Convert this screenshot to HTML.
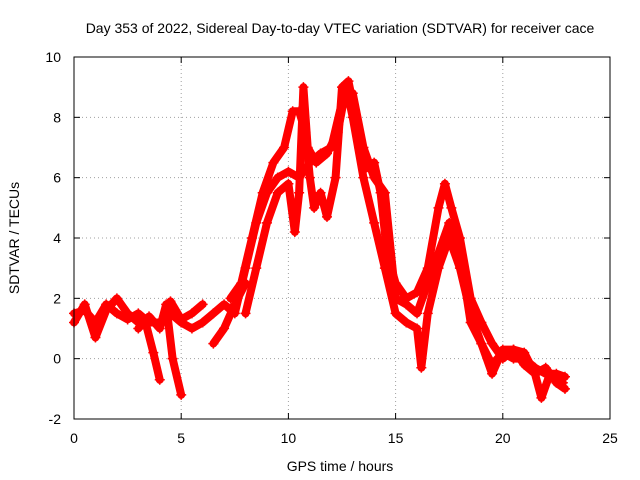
<!DOCTYPE html>
<html><head><meta charset="utf-8"><style>
body{margin:0;background:#fff}
svg{display:block;font-family:"Liberation Sans",sans-serif}
</style></head><body>
<svg id="chart" width="640" height="480" viewBox="0 0 640 480">
<rect width="640" height="480" fill="#fff"/>
<text x="340" y="33" font-size="14" text-anchor="middle">Day 353 of 2022, Sidereal Day-to-day VTEC variation (SDTVAR) for receiver cace</text>
<g id="grid"></g><g id="axes"></g><g id="series"></g>
<rect x="74" y="57" width="536" height="362" fill="none" stroke="#000" stroke-width="1"/>
<text x="340" y="471" font-size="14" text-anchor="middle">GPS time / hours</text>
<text transform="translate(19,238) rotate(-90)" font-size="14" text-anchor="middle">SDTVAR / TECUs</text>
</svg>
<script>
const xTicks=[0,5,10,15,20,25];
const yTicks=[-2,0,2,4,6,8,10];
const traceA=[[0,1.5],[0.5,1.6],[1,1.2],[1.5,1.8],[2,1.5],[2.5,1.3],[3,1.5],[3.5,1.2],[4,1.2],[4.5,1.5],[5,1.2],[5.5,1.0],[6,1.2],[6.5,1.5],[7,1.8],[7.5,1.5],[8,3],[8.5,4.5],[9,5.5],[9.5,6],[10,6.2],[10.5,6],[11,6.5],[11.5,6.8],[12,7],[12.5,8.5],[13,8.8],[13.5,7],[14,6],[14.5,5.5],[15,2],[15.5,1.8],[16,1.5],[16.5,2.5],[17,3.5],[17.5,4.5],[18,3.5],[18.5,1.2],[19,0.5],[19.5,-0.2],[20,0.2],[20.5,0],[21,0],[21.5,-0.3],[22,-0.5],[22.5,-0.5],[22.9,-0.6]];
const traceB=[[7.3,2],[7.8,2.5],[8.3,4],[8.8,5.5],[9.3,6.5],[9.8,7],[10.2,8.2],[10.5,8.2],[10.8,7.5],[11,6],[11.2,5],[11.5,5.5],[11.8,4.7],[12.2,6],[12.5,9],[12.8,9.2],[13,8.5],[13.3,7],[13.6,6.3],[14,6.5],[14.3,5.5],[14.6,3.5],[15,2.5],[15.5,2],[16,2.2],[16.5,3],[17,5],[17.3,5.8],[17.6,5],[18,4],[18.5,2],[19,1.2],[19.5,0.5],[20,0],[20.5,0.3],[21,0.2],[21.5,-0.5],[22,-0.3],[22.5,-0.8],[22.9,-1]];
const traceC=[[8,1.5],[8.5,3],[9,4.5],[9.5,5.5],[10,5.8],[10.3,4.2],[10.5,5.5],[10.7,9],[10.9,7],[11.3,6.5],[11.8,6.8],[12.3,7.5],[12.7,9],[13,8],[13.5,6],[14,4.5],[14.5,3],[15,1.5],[15.5,1.2],[16,1],[16.2,-0.3],[16.5,1.5],[17,3],[17.5,4],[18,3],[18.5,1.5],[19,0.5],[19.5,-0.5],[20,0.3],[20.5,0.3],[21,-0.2],[21.5,-0.5],[21.8,-1.3],[22.2,-0.5],[22.8,-0.8]];
const traceD=[[0,1.2],[0.5,1.8],[1,0.7],[1.5,1.6],[2,2],[2.5,1.5],[3,1.2],[3.3,1.3],[3.7,0.2],[4,-0.7]];
const traceE=[[3,1.0],[3.5,1.4],[4,1.0],[4.3,1.8],[4.6,0],[5,-1.2]];
const traceF=[[4.5,1.9],[5,1.3],[5.5,1.5],[6,1.8]];
const traceG=[[6.5,0.5],[7,1],[7.5,1.8],[8,2.5]];
const traces=[traceA,traceB,traceC,traceD,traceE,traceF,traceG];
const NS="http://www.w3.org/2000/svg";
const X=t=>74+t*536/25, Y=v=>57+(10-v)*362/12;
const grid=document.getElementById('grid'),axes=document.getElementById('axes'),ser=document.getElementById('series');
function mk(tag,attrs,parent){const e=document.createElementNS(NS,tag);for(const k in attrs)e.setAttribute(k,attrs[k]);parent.appendChild(e);return e;}
xTicks.forEach(t=>{
 const l=mk('line',{x1:X(t),x2:X(t),y1:57,y2:419,stroke:'#a0a0a0','stroke-dasharray':'1,3','stroke-width':1},grid);
 
 
 const tx=mk('text',{x:X(t),y:443,'font-size':14,'text-anchor':'middle'},axes);tx.textContent=t;
 
 
 mk('line',{x1:X(t),x2:X(t),y1:419,y2:413,stroke:'#000'},axes);
 mk('line',{x1:X(t),x2:X(t),y1:57,y2:63,stroke:'#000'},axes);
});
yTicks.forEach(v=>{
 const l=mk('line',{x1:74,x2:610,y1:Y(v),y2:Y(v),stroke:'#a0a0a0','stroke-dasharray':'1,3','stroke-width':1},grid);
 
 
 const tx=mk('text',{x:61,y:Y(v)+5,'font-size':14,'text-anchor':'end'},axes);tx.textContent=v;
 
 
 mk('line',{x1:74,x2:80,y1:Y(v),y2:Y(v),stroke:'#000'},axes);
 mk('line',{x1:610,x2:604,y1:Y(v),y2:Y(v),stroke:'#000'},axes);
});
traces.forEach((tr,i)=>{
 const p=mk('polyline',{points:tr.map(d=>X(d[0])+','+Y(d[1])).join(' '),fill:'none',stroke:'#f00','stroke-width':8,'stroke-linejoin':'round','stroke-linecap':'round'},ser);
 
 
 tr.forEach(d=>{
  const m=mk('path',{d:`M${X(d[0])-5},${Y(d[1])}h10M${X(d[0])},${Y(d[1])-5}v10`,stroke:'#f00','stroke-width':1.5},ser);
  
  
 });
});
</script>
</body></html>
